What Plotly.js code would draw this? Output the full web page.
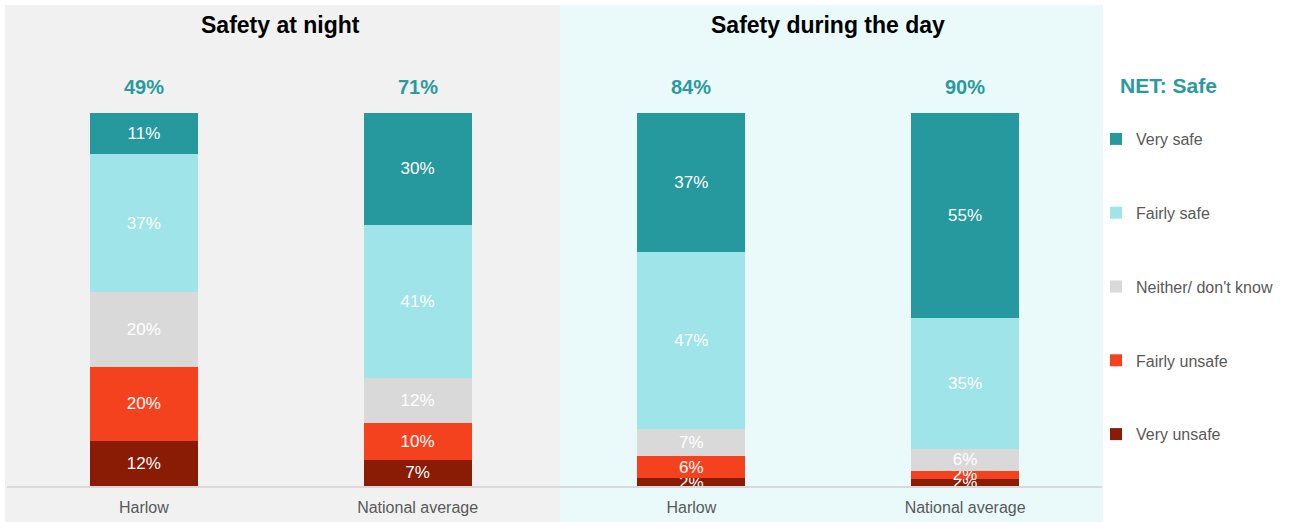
<!DOCTYPE html>
<html>
<head>
<meta charset="utf-8">
<script src="https://cdn.plot.ly/plotly-3.0.1.min.js"></script>
<style>html,body{margin:0;padding:0;background:#fff;}#chart{width:1290px;height:522px;}</style>
</head>
<body>
<div id="chart"></div>
<script>
// Data
const categories = ['Harlow', 'National average', 'Harlow', 'National average'];
const panelTitles = ['Safety at night', 'Safety during the day'];
const netLabel = 'NET: Safe';
const netSafe = [49, 71, 84, 90];
const responses = ['Very unsafe', 'Fairly unsafe', 'Neither/ don\'t know', 'Fairly safe', 'Very safe'];
const veryUnsafe   = [12, 7, 2, 2];
const fairlyUnsafe = [20, 10, 6, 2];
const neither      = [20, 12, 7, 6];
const fairlySafe   = [37, 41, 47, 35];
const verySafe     = [11, 30, 37, 55];
const colors = ['#8a1c05', '#f5421e', '#d9d9d9', '#9ee4e8', '#26999e'];

const seriesValues = [veryUnsafe, fairlyUnsafe, neither, fairlySafe, verySafe];
const xIdx = categories.map((c, i) => i);
const FONT = 'Liberation Sans, Arial, sans-serif';

const traces = seriesValues.map((vals, k) => ({
  type: 'bar',
  name: responses[k],
  x: xIdx,
  y: vals,
  text: vals.map(v => v + '%'),
  textposition: 'inside',
  insidetextanchor: 'middle',
  textangle: 0,
  textfont: {color: '#ffffff', size: 17, family: FONT},
  marker: {color: colors[k], line: {width: 0}},
  legendgroup: 'g' + k,
  legendrank: seriesValues.length - k,
  hoverinfo: 'skip'
}));

const W = 1095, plotLeft = 7, plotBottom = 486, plotTop = 113, H = plotBottom - plotTop;
const px2x = p => (p - plotLeft) / W;
const px2y = p => (plotBottom - p) / H;

const annotations = [];
netSafe.forEach((v, i) => annotations.push({
  x: xIdx[i], xref: 'x', y: px2y(87), yref: 'paper', text: '<b>' + v + '%</b>', showarrow: false,
  font: {size: 20, color: '#2a9a9e', family: FONT},
  xanchor: 'center', yanchor: 'middle'
}));
panelTitles.forEach((t, j) => annotations.push({
  x: (xIdx[2 * j] + xIdx[2 * j + 1]) / 2, xref: 'x', y: px2y(25), yref: 'paper', text: '<b>' + t + '</b>', showarrow: false,
  font: {size: 23, color: '#000000', family: FONT},
  xanchor: 'center', yanchor: 'middle'
}));
annotations.push({
  x: px2x(1118), xref: 'paper', y: px2y(86), yref: 'paper', text: '<b>' + netLabel + '</b>', showarrow: false,
  font: {size: 21, color: '#2a9a9e', family: FONT}, xanchor: 'left', yanchor: 'middle'
});

const layout = {
  width: 1290, height: 522,
  margin: {l: plotLeft, r: 1290 - plotLeft - W, t: plotTop, b: 522 - plotBottom, autoexpand: false},
  paper_bgcolor: '#ffffff',
  plot_bgcolor: 'rgba(0,0,0,0)',
  barmode: 'stack',
  barnorm: 'percent',
  bargap: 0.605,
  uniformtext: {mode: 'show', minsize: 17},
  font: {family: FONT, color: '#595959'},
  xaxis: {
    range: [-0.5, 3.5], tickvals: xIdx, ticktext: categories,
    showline: true, linecolor: '#d9d9d9', linewidth: 1.5, ticks: '', showgrid: false, zeroline: false,
    tickfont: {size: 16, color: '#595959'}, ticklabelstandoff: 6, fixedrange: true
  },
  yaxis: {range: [0, 100], visible: false, showgrid: false, zeroline: false, fixedrange: true},
  shapes: [
    {type: 'rect', layer: 'below', xref: 'paper', yref: 'paper', x0: px2x(5), x1: px2x(560), y0: px2y(522), y1: px2y(5), fillcolor: '#f1f1f1', line: {width: 0}},
    {type: 'rect', layer: 'below', xref: 'paper', yref: 'paper', x0: px2x(560), x1: px2x(1103), y0: px2y(522), y1: px2y(5), fillcolor: '#eafafa', line: {width: 0}}
  ],
  annotations: annotations,
  showlegend: true,
  legend: {
    x: px2x(1096), xanchor: 'left', y: px2y(122), yanchor: 'top',
    traceorder: 'grouped', tracegroupgap: 50, maxheight: 520,
    font: {size: 16, color: '#595959'},
    itemwidth: 30, bgcolor: 'rgba(0,0,0,0)'
  }
};

Plotly.newPlot('chart', traces, layout, {displayModeBar: false, staticPlot: true});
</script>
</body>
</html>
